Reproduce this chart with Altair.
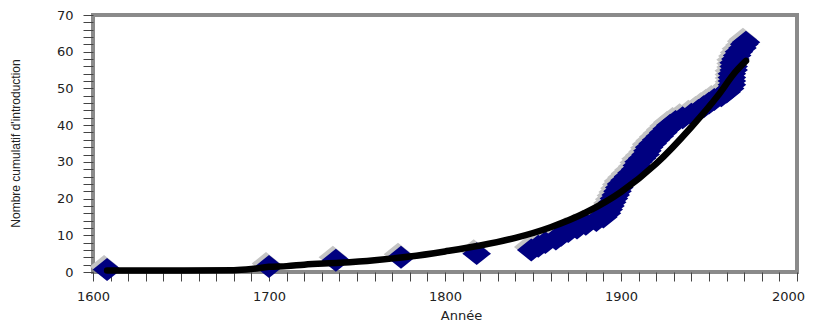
import altair as alt
import pandas as pd

# ---- data ----
years = [1608, 1700, 1738, 1775, 1818,
         1849, 1853, 1857, 1863, 1866, 1870, 1875, 1880, 1886, 1890,
         1892, 1893, 1894, 1895, 1896, 1897, 1898, 1899, 1900, 1902,
         1904, 1906, 1908, 1909, 1910, 1912, 1914, 1915, 1916, 1918,
         1920, 1922, 1924, 1926, 1928, 1931, 1935, 1940, 1944, 1947,
         1950, 1953, 1957, 1960, 1962, 1963, 1963, 1963, 1963, 1964,
         1964, 1964, 1965, 1966, 1967, 1969, 1970, 1971]
counts = [0.7, 1.5, 3.2, 4.0, 5.0,
          6, 7, 8, 9, 10, 11, 12, 13, 14, 15,
          16, 17, 18, 19, 20, 21, 22, 23, 24, 25,
          26, 27, 28, 29, 30, 31, 32, 33, 34, 35,
          36, 37, 38, 39, 40, 41, 42, 43, 44, 45,
          46, 47, 48, 49, 50, 51, 52, 53, 54, 55,
          56, 57, 58, 59, 60, 61, 62, 62.6]

trend_years = [1608, 1640, 1680, 1690, 1700, 1710, 1720, 1740, 1760, 1780, 1800, 1820,
               1840, 1860, 1880, 1900, 1920, 1940, 1955, 1965, 1971]
trend_vals = [0.4, 0.4, 0.5, 0.8, 1.4, 1.6, 2.0, 2.5, 3.2, 4.2, 5.6, 7.2,
              9.3, 12.2, 16.2, 21.8, 29.5, 39.5, 48.0, 54.5, 57.5]

x_ticks = list(range(1600, 2001, 10))
y_ticks = list(range(0, 71, 2))

pts = pd.DataFrame({"Année": years, "n": counts})
trend = pd.DataFrame({"Année": trend_years, "n": trend_vals})

FONT = "DejaVu Sans"

x_enc = alt.X(
    "Année:Q",
    scale=alt.Scale(domain=[1600, 2000], nice=False, zero=False),
    axis=alt.Axis(
        values=x_ticks,
        labelExpr="datum.value % 100 == 0 ? datum.label : ''",
        labelOffset={"condition": {"test": "datum.value == 2000", "value": -9}, "value": 0},
        title="Année",
        titleX=368, titleY=47, titleAlign="center", titleBaseline="alphabetic",
        titleFont=FONT, titleFontSize=13, titleFontWeight="normal", titleColor="#222",
        labelFont=FONT, labelFontSize=13, labelColor="#222", labelPadding=9,
        tickSize=9, tickColor="#444", domain=False, grid=False, labelFlush=False,
        labelOverlap=False, format="d",
    ),
)
y_enc = alt.Y(
    "n:Q",
    scale=alt.Scale(domain=[0, 70], nice=False),
    axis=alt.Axis(
        values=y_ticks,
        labelExpr="datum.value % 10 == 0 ? datum.label : ''",
        title="Nombre cumulatif d'introduction",
        titleAngle=270, titleX=-74, titleY=128, titleAlign="center",
        titleBaseline="alphabetic",
        titleFont="Liberation Sans", titleFontSize=12, titleFontWeight="normal",
        titleColor="#222",
        labelFont=FONT, labelFontSize=13, labelColor="#222", labelPadding=10,
        tickSize=10, tickColor="#444", domain=False, grid=False, labelOverlap=False,
        format="d",
    ),
)

diamond = "M-1,0L0,-0.8L1,0L0,0.8Z"

shadow = alt.Chart(pts).mark_point(
    shape=diamond, size=820, filled=True, color="#c4c4c4", opacity=1,
    xOffset=-3, yOffset=-3,
).encode(x=x_enc, y=y_enc)

points = alt.Chart(pts).mark_point(
    shape=diamond, size=820, filled=True, color="#000080", opacity=1,
).encode(x=x_enc, y=y_enc)

line = alt.Chart(trend).mark_line(
    color="#000000", strokeWidth=6.5, interpolate="monotone", strokeCap="round",
).encode(x=x_enc, y=y_enc)

chart = (
    alt.layer(shadow, points, line)
    .properties(
        width=704, height=257,
        autosize=alt.AutoSizeParams(type="none"),
        padding={"left": 85, "top": 7, "right": 10, "bottom": 49},
        background="white",
    )
    .configure_view(stroke="#8a8a8a", strokeWidth=4)
)

chart.save("out.html", embed_options={"renderer": "svg", "actions": False})
